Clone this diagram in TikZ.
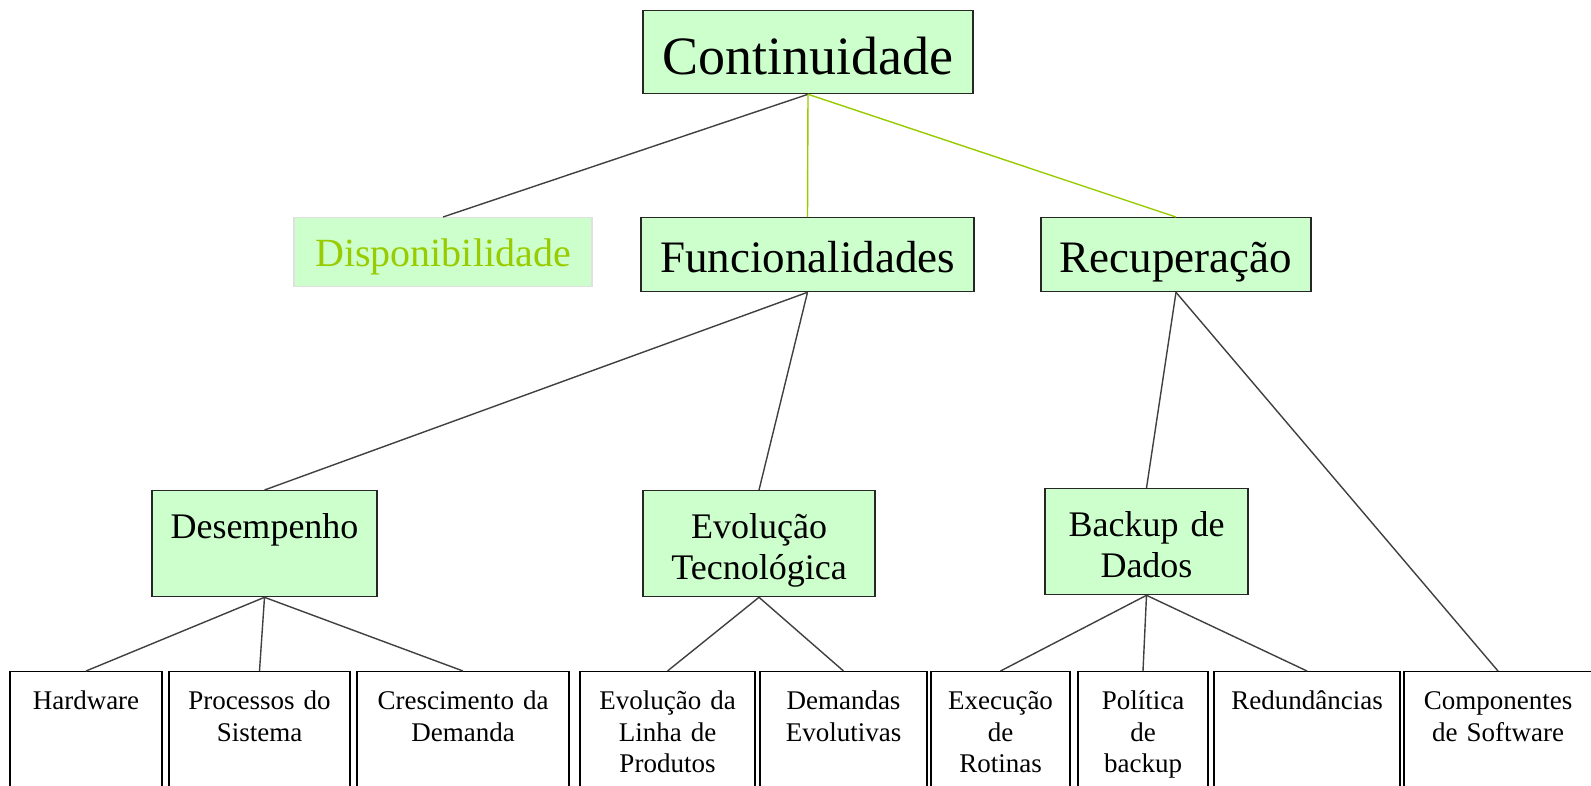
\documentclass[tikz,border=0pt]{standalone}
\usepackage{fontspec}
\setmainfont{Liberation Serif}
\usetikzlibrary{positioning}
\definecolor{MintFill}{RGB}{204,255,204}
\definecolor{LimeLine}{RGB}{153,204,0}
\definecolor{EdgeGray}{RGB}{64,64,64}
\tikzset{
	head/.style={draw=black!85,fill=MintFill,line width=1.3pt,inner sep=0pt,anchor=north,align=center},
	root/.style={head,text height=64pt,text depth=19pt,font=\fontsize{54}{60}\selectfont},
	branch/.style={head,text height=55pt,text depth=19pt,font=\fontsize{45}{50}\selectfont},
	faded/.style={head,draw=black!12,text=LimeLine,text height=49pt,text depth=20pt,font=\fontsize{40}{45}\selectfont},
	mid/.style={head,text height=48pt,text depth=58pt,font=\fontsize{36}{40.6}\selectfont},
	leaf/.style={draw=black,fill=white,line width=1.4pt,inner sep=0pt,anchor=north,align=center,
		text height=38pt,text depth=160pt,font=\fontsize{27}{31.5}\selectfont},
	edge/.style={draw=EdgeGray,line width=1.4pt},
	lime/.style={draw=LimeLine,line width=1.4pt},
}
\begin{document}
\begin{tikzpicture}[x=1pt,y=-1pt]
			\useasboundingbox[fill=white] (0,0) rectangle (1591,785);
			\node[root,minimum width=330pt] (cont) at (808,10) {Continuidade};
			\node[faded,minimum width=298pt] (disp) at (443,217) {Disponibilidade};
			\node[branch,minimum width=333pt] (func) at (807.5,217) {Funcionalidades};
			\node[branch,minimum width=270pt] (recup) at (1176,217) {Recuperação};
			\node[mid,text width=225pt] (desemp) at (264.5,490) {Desempenho};
			\node[mid,text width=232pt] (evtec) at (759,490) {Evolução\\Tecnológica};
			\node[mid,text width=203pt] (backup) at (1146.5,488) {Backup de\\Dados};
			\node[leaf,text width=152pt] (hw) at (86,671) {Hardware};
			\node[leaf,text width=181pt] (proc) at (259.5,671) {Processos do\\Sistema};
			\node[leaf,text width=212pt] (cresc) at (463,671) {Crescimento da\\Demanda};
			\node[leaf,text width=175pt] (linha) at (667.5,671) {Evolução da\\Linha de\\Produtos};
			\node[leaf,text width=167pt] (demev) at (843.5,671) {Demandas\\Evolutivas};
			\node[leaf,text width=139pt] (exec) at (1000.5,671) {Execução\\de\\Rotinas};
			\node[leaf,text width=130pt] (polit) at (1143,671) {Política\\de\\backup};
			\node[leaf,text width=186pt] (redund) at (1307,671) {Redundâncias};
			\node[leaf,text width=188pt] (compsw) at (1498,671) {Componentes\\de Software};
			\draw[edge] (cont.south)--(disp.north);
			\draw[lime] (cont.south)--(func.north);
			\draw[lime] (cont.south)--(recup.north);
			\draw[edge] (func.south)--(desemp.north);
			\draw[edge] (func.south)--(evtec.north);
			\draw[edge] (recup.south)--(backup.north);
			\draw[edge] (recup.south)--(compsw.north);
			\draw[edge] (desemp.south)--(hw.north);
			\draw[edge] (desemp.south)--(proc.north);
			\draw[edge] (desemp.south)--(cresc.north);
			\draw[edge] (evtec.south)--(linha.north);
			\draw[edge] (evtec.south)--(demev.north);
			\draw[edge] (backup.south)--(exec.north);
			\draw[edge] (backup.south)--(polit.north);
			\draw[edge] (backup.south)--(redund.north);
		\end{tikzpicture}
\end{document}
